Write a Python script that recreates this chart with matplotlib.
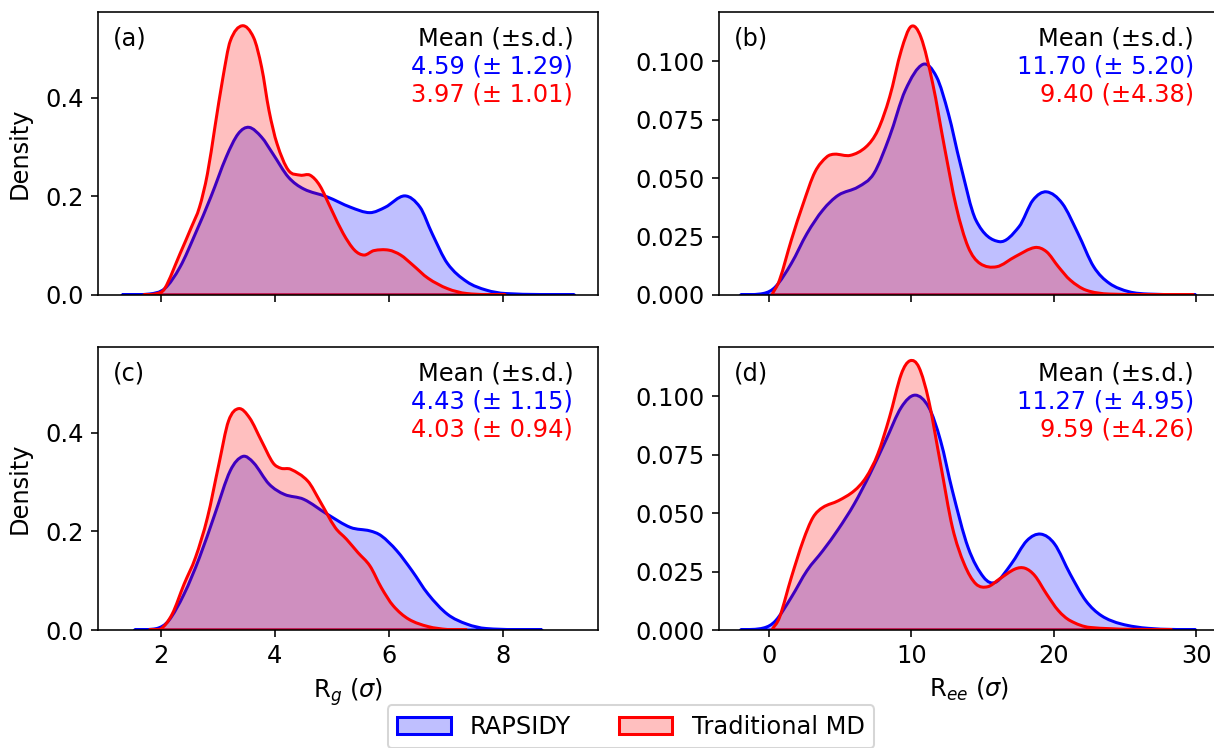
import matplotlib
matplotlib.use("Agg")
import matplotlib.pyplot as plt
from matplotlib.patches import Patch, PathPatch
from matplotlib.path import Path
import matplotlib.ticker as mticker

plt.rcParams['font.family'] = ['DejaVu Sans']
plt.rcParams['font.size'] = 12

# ---------------- data ----------------
# Panel (a): Rg, set 1
a_blue_x = [1.32, 1.80, 2.07, 2.34, 2.61, 2.88, 3.15, 3.36, 3.55, 3.77, 3.97, 4.24, 4.51, 4.92, 5.33, 5.67, 5.94, 6.28, 6.55, 6.76, 7.03, 7.37, 7.71, 8.05, 9.26]
a_blue_y = [0.000, 0.002, 0.013, 0.057, 0.125, 0.199, 0.280, 0.327, 0.340, 0.320, 0.286, 0.239, 0.215, 0.199, 0.178, 0.167, 0.178, 0.201, 0.178, 0.125, 0.064, 0.027, 0.010, 0.003, 0.000]
a_red_x = [1.70, 1.93, 2.07, 2.34, 2.54, 2.68, 2.82, 2.95, 3.09, 3.22, 3.43, 3.63, 3.77, 3.90, 4.04, 4.24, 4.45, 4.62, 4.79, 5.00, 5.20, 5.40, 5.57, 5.74, 6.00, 6.21, 6.42, 6.69, 7.03, 7.37, 8.05]
a_red_y = [0.000, 0.003, 0.013, 0.084, 0.138, 0.178, 0.246, 0.340, 0.440, 0.515, 0.546, 0.522, 0.462, 0.374, 0.307, 0.253, 0.243, 0.243, 0.222, 0.172, 0.125, 0.091, 0.081, 0.090, 0.091, 0.081, 0.061, 0.034, 0.013, 0.003, 0.000]

# Panel (b): Ree, set 1
b_blue_x = [-2.00, -0.36, 0.47, 1.57, 2.67, 3.78, 4.88, 6.26, 7.36, 8.46, 9.57, 10.81, 11.77, 12.60, 13.43, 14.53, 16.18, 17.56, 18.53, 19.49, 20.60, 21.70, 22.80, 23.90, 25.28, 26.66, 29.97]
b_blue_y = [0.0000, 0.0007, 0.0036, 0.0135, 0.0263, 0.0363, 0.0427, 0.0462, 0.0519, 0.0676, 0.0875, 0.0986, 0.0932, 0.0775, 0.0562, 0.0320, 0.0228, 0.0292, 0.0405, 0.0441, 0.0391, 0.0263, 0.0121, 0.0050, 0.0014, 0.0004, 0.0000]
b_red_x = [0.19, 0.74, 1.57, 2.40, 3.23, 4.05, 4.60, 5.71, 6.81, 7.64, 8.47, 9.29, 9.98, 10.67, 11.50, 12.32, 13.15, 13.98, 14.81, 16.00, 17.29, 18.67, 19.49, 20.32, 21.15, 22.25, 23.90, 29.83]
b_red_y = [0.0000, 0.0064, 0.0235, 0.0390, 0.0526, 0.0590, 0.0602, 0.0597, 0.0633, 0.0704, 0.0846, 0.1046, 0.1148, 0.1102, 0.0903, 0.0633, 0.0377, 0.0206, 0.0135, 0.0121, 0.0164, 0.0203, 0.0185, 0.0121, 0.0064, 0.0021, 0.0004, 0.0000]

# Panel (c): Rg, set 2
c_blue_x = [1.54, 1.93, 2.14, 2.41, 2.68, 2.95, 3.22, 3.44, 3.63, 3.90, 4.17, 4.51, 4.92, 5.33, 5.67, 5.87, 6.14, 6.41, 6.69, 7.03, 7.37, 7.71, 8.69]
c_blue_y = [0.000, 0.003, 0.019, 0.073, 0.147, 0.235, 0.323, 0.352, 0.339, 0.296, 0.275, 0.265, 0.235, 0.208, 0.201, 0.191, 0.161, 0.120, 0.073, 0.032, 0.012, 0.003, 0.000]
c_red_x = [1.80, 2.00, 2.20, 2.41, 2.61, 2.82, 3.02, 3.19, 3.37, 3.56, 3.77, 3.97, 4.11, 4.28, 4.58, 4.79, 5.06, 5.26, 5.46, 5.67, 5.87, 6.08, 6.35, 6.69, 7.03, 7.37]
c_red_y = [0.000, 0.002, 0.032, 0.093, 0.147, 0.228, 0.336, 0.424, 0.449, 0.430, 0.383, 0.339, 0.328, 0.326, 0.302, 0.262, 0.208, 0.184, 0.157, 0.130, 0.086, 0.049, 0.022, 0.007, 0.001, 0.000]

# Panel (d): Ree, set 2
d_blue_x = [-2.00, -0.36, 0.47, 1.57, 2.67, 3.78, 4.88, 5.98, 7.09, 8.19, 9.29, 10.26, 11.22, 12.05, 12.88, 13.98, 15.08, 15.91, 17.01, 18.11, 19.08, 20.05, 21.15, 22.25, 23.35, 24.73, 26.66, 29.97]
d_blue_y = [0.0000, 0.0009, 0.0040, 0.0140, 0.0254, 0.0339, 0.0432, 0.0538, 0.0667, 0.0809, 0.0952, 0.1004, 0.0952, 0.0809, 0.0595, 0.0353, 0.0225, 0.0204, 0.0282, 0.0382, 0.0410, 0.0368, 0.0239, 0.0125, 0.0061, 0.0026, 0.0007, 0.0000]
d_red_x = [0.19, 0.74, 1.57, 2.40, 3.09, 3.78, 4.88, 5.98, 6.81, 7.64, 8.46, 9.29, 9.90, 10.53, 11.22, 12.05, 12.88, 13.71, 14.53, 15.36, 16.18, 17.29, 17.98, 18.67, 19.49, 20.32, 21.15, 22.53, 28.30]
d_red_y = [0.0000, 0.0054, 0.0225, 0.0382, 0.0481, 0.0524, 0.0553, 0.0595, 0.0652, 0.0752, 0.0909, 0.1094, 0.1151, 0.1123, 0.0980, 0.0709, 0.0439, 0.0282, 0.0197, 0.0185, 0.0218, 0.0261, 0.0264, 0.0232, 0.0154, 0.0083, 0.0040, 0.0011, 0.0000]

panel_tags = ["(a)", "(b)", "(c)", "(d)"]
blue_stats = ["4.59 (\u00b1 1.29)", "11.70 (\u00b1 5.20)", "4.43 (\u00b1 1.15)", "11.27 (\u00b1 4.95)"]
red_stats = ["3.97 (\u00b1 1.01)", "9.40 (\u00b14.38)", "4.03 (\u00b1 0.94)", "9.59 (\u00b14.26)"]
series_names = ["RAPSIDY", "Traditional MD"]
x_labels = [r"R$_g$ ($\sigma$)", r"R$_{ee}$ ($\sigma$)"]

# ---------------- figure ----------------
W, H, DPI = 1214, 748, 145
fig = plt.figure(figsize=(W / DPI, H / DPI), dpi=DPI)


def frac(left, top, right, bottom):
    return [left / W, 1 - bottom / H, (right - left) / W, (bottom - top) / H]


ax_a = fig.add_axes(frac(98.3, 12.3, 598.3, 295))
ax_b = fig.add_axes(frac(719, 12.3, 1219, 295))
ax_c = fig.add_axes(frac(98.3, 347.3, 598.3, 630), sharex=ax_a, sharey=ax_a)
ax_d = fig.add_axes(frac(719, 347.3, 1219, 630), sharex=ax_b, sharey=ax_b)
axes = [ax_a, ax_b, ax_c, ax_d]

curves = [
    (a_blue_x, a_blue_y, a_red_x, a_red_y),
    (b_blue_x, b_blue_y, b_red_x, b_red_y),
    (c_blue_x, c_blue_y, c_red_x, c_red_y),
    (d_blue_x, d_blue_y, d_red_x, d_red_y),
]

blue = (0, 0, 1)
red = (1, 0, 0)


def smooth_fill(ax, xs, ys, color):
    """Draw a filled density outline through the points with a smooth (Hermite/Bezier) path."""
    n = len(xs)
    slopes = []
    for i in range(n):
        if i == 0:
            m = (ys[1] - ys[0]) / (xs[1] - xs[0])
        elif i == n - 1:
            m = (ys[-1] - ys[-2]) / (xs[-1] - xs[-2])
        else:
            m = (ys[i + 1] - ys[i - 1]) / (xs[i + 1] - xs[i - 1])
        slopes.append(m)
    verts = [(xs[0], 0.0), (xs[0], ys[0])]
    codes = [Path.MOVETO, Path.LINETO]
    for i in range(n - 1):
        dx = (xs[i + 1] - xs[i]) / 3.0
        c1 = (xs[i] + dx, max(0.0, ys[i] + slopes[i] * dx))
        c2 = (xs[i + 1] - dx, max(0.0, ys[i + 1] - slopes[i + 1] * dx))
        verts += [c1, c2, (xs[i + 1], ys[i + 1])]
        codes += [Path.CURVE4, Path.CURVE4, Path.CURVE4]
    verts += [(xs[-1], 0.0), (xs[0], 0.0)]
    codes += [Path.LINETO, Path.CLOSEPOLY]
    patch = PathPatch(Path(verts, codes), facecolor=color + (0.25,), edgecolor=color,
                      linewidth=1.5, joinstyle='round')
    ax.add_patch(patch)


for i, ax in enumerate(axes):
    bx, by, rx, ry = curves[i]
    smooth_fill(ax, bx, by, blue)
    smooth_fill(ax, rx, ry, red)
    ax.text(0.03, 0.95, panel_tags[i], transform=ax.transAxes, ha='left', va='top')
    ax.text(0.95, 0.95, "Mean (\u00b1s.d.)", transform=ax.transAxes, ha='right', va='top', color='black')
    ax.text(0.95, 0.85, blue_stats[i], transform=ax.transAxes, ha='right', va='top', color=blue)
    ax.text(0.95, 0.75, red_stats[i], transform=ax.transAxes, ha='right', va='top', color=red)

ymax_left = max(max(a_blue_y), max(a_red_y), max(c_blue_y), max(c_red_y))
ymax_right = max(max(b_blue_y), max(b_red_y), max(d_blue_y), max(d_red_y))
ax_a.set_ylim(0, 1.05 * ymax_left)
ax_b.set_ylim(0, 1.05 * ymax_right)
ax_a.set_xlim(0.905, 9.677)
ax_b.set_xlim(-3.51, 31.6)

ax_a.set_yticks([0.0, 0.2, 0.4])
ax_b.set_yticks([0.0, 0.025, 0.05, 0.075, 0.1])
ax_b.yaxis.set_major_formatter(mticker.FormatStrFormatter('%.3f'))
ax_a.yaxis.set_major_formatter(mticker.FormatStrFormatter('%.1f'))
ax_a.set_xticks([2, 4, 6, 8])
ax_b.set_xticks([0, 10, 20, 30])

ax_a.tick_params(labelbottom=False)
ax_b.tick_params(labelbottom=False)
ax_a.set_ylabel("Density", labelpad=7)
ax_c.set_ylabel("Density", labelpad=7)
ax_c.set_xlabel(x_labels[0])
ax_d.set_xlabel(x_labels[1])

handles = [
    Patch(facecolor=blue + (0.25,), edgecolor=blue, linewidth=1.5, label=series_names[0]),
    Patch(facecolor=red + (0.25,), edgecolor=red, linewidth=1.5, label=series_names[1]),
]
fig.legend(handles=handles, loc='upper center', bbox_to_anchor=(631 / W, 1 - 693 / H),
           ncol=2, frameon=True, handlelength=2.2)

fig.savefig("out.png", dpi=DPI)
